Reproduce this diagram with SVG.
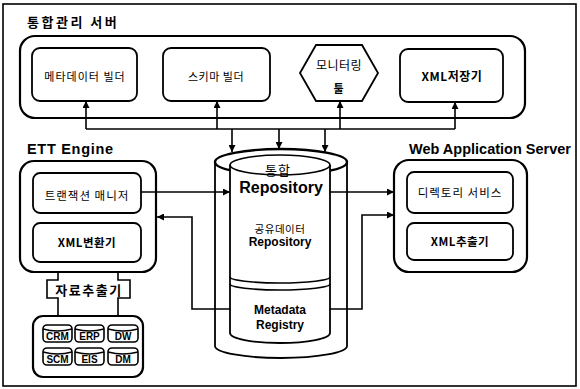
<svg xmlns="http://www.w3.org/2000/svg" width="580" height="389" viewBox="0 0 580 389">
<defs>
<marker id="ah" viewBox="0 0 10 10" refX="10" refY="5" markerWidth="7" markerHeight="7" markerUnits="userSpaceOnUse" orient="auto">
<path d="M0,0 L10,5 L0,10 z" fill="#000"/>
</marker>
<style>
.cont{fill:#fff;stroke:#000;stroke-width:2.2}
.box{fill:#fff;stroke:#000;stroke-width:1.8}
.ln{fill:none;stroke:#000;stroke-width:1.6}
.kr{font-family:"Noto Sans CJK KR","Noto Sans",sans-serif;font-size:11px;fill:#000;text-anchor:middle;letter-spacing:1px}
.b{font-weight:bold}
.en{font-family:"Liberation Sans",Arial,sans-serif;font-weight:bold;fill:#000}
.db{font-family:"Liberation Sans",Arial,sans-serif;font-weight:bold;font-size:10px;text-anchor:middle;fill:#000}
</style>
</defs>
<rect x="0" y="0" width="580" height="389" fill="#fff"/>
<rect x="3" y="4" width="573" height="382" fill="none" stroke="#000" stroke-width="1.6"/>

<g id="server">
<text x="27" y="27" class="kr b" style="text-anchor:start;font-size:13px;letter-spacing:2.5px">통합관리 서버</text>
<rect x="20" y="36" width="505" height="82" rx="15" class="cont"/>
</g>
<g id="meta-builder">
<rect x="32" y="48" width="105" height="53" rx="8" class="box"/>
<text x="85" y="81" class="kr">메타데이터 빌더</text>
</g>
<g id="schema-builder">
<rect x="163" y="48" width="107" height="53" rx="8" class="box"/>
<text x="216" y="81" class="kr" style="letter-spacing:0.5px">스키마 빌더</text>
</g>
<g id="monitor">
<polygon points="300,73 316,45 362,45 378,73 362,101 316,101" class="box"/>
<text x="339" y="70" class="kr" style="font-size:12px;letter-spacing:0.5px">모니터링</text>
<text x="339" y="93" class="kr b" style="font-size:11px">툴</text>
</g>
<g id="xml-store">
<rect x="400" y="49" width="103" height="53" rx="8" class="box"/>
<text x="452" y="81" class="kr b" style="font-size:12px;letter-spacing:0.5px">XML저장기</text>
</g>

<g id="ett">
<text x="27" y="154" class="en" style="font-size:14.5px;letter-spacing:0.7px">ETT Engine</text>
<rect x="20" y="161" width="136" height="111" rx="14" class="cont"/>
</g>
<g id="tx-manager">
<rect x="33" y="173" width="108" height="40" rx="7" class="box"/>
<text x="87" y="200" class="kr" style="font-size:11.5px">트랜잭션 매니저</text>
</g>
<g id="xml-converter">
<rect x="33" y="223" width="108" height="39" rx="7" class="box"/>
<text x="87" y="247" class="kr b" style="font-size:11.5px;letter-spacing:0.5px">XML변환기</text>
</g>
<g id="extractor">
<path d="M58,272 V280 H47 V298 H58 V316" class="ln" stroke-width="1.8"/>
<path d="M118,272 V280 H130 V298 H118 V316" class="ln" stroke-width="1.8"/>
<text x="89" y="295" class="kr b" style="font-size:13px;letter-spacing:1.5px">자료추출기</text>
</g>
<g id="sources">
<rect x="33" y="316" width="110" height="61" rx="10" class="cont"/>
<g class="ln" stroke-width="1.4">
<rect x="43" y="325" width="29" height="17" rx="4" fill="#fff"/>
<path d="M43,329 Q57.5,333 72,329"/>
<rect x="75" y="325" width="29" height="17" rx="4" fill="#fff"/>
<path d="M75,329 Q89.5,333 104,329"/>
<rect x="108" y="325" width="30" height="17" rx="4" fill="#fff"/>
<path d="M108,329 Q123,333 138,329"/>
<rect x="43" y="348" width="29" height="17" rx="4" fill="#fff"/>
<path d="M43,352 Q57.5,356 72,352"/>
<rect x="75" y="348" width="29" height="17" rx="4" fill="#fff"/>
<path d="M75,352 Q89.5,356 104,352"/>
<rect x="108" y="348" width="30" height="17" rx="4" fill="#fff"/>
<path d="M108,352 Q123,356 138,352"/>
</g>
<text x="57.5" y="340" class="db">CRM</text>
<text x="89.5" y="340" class="db">ERP</text>
<text x="123" y="340" class="db">DW</text>
<text x="57.5" y="363" class="db">SCM</text>
<text x="89.5" y="363" class="db">EIS</text>
<text x="123" y="363" class="db">DM</text>
</g>

<g id="repository">
<path d="M215,162 V346 A66,12 0 0 0 347,346 V162" class="box" stroke-width="1.8"/>
<ellipse cx="281" cy="162" rx="66" ry="13" fill="#fff" stroke="#000" stroke-width="2.4"/>
<path d="M230,165 V333 A50,10 0 0 0 330,333 V165" class="box" stroke-width="1.6"/>
<ellipse cx="280" cy="165" rx="50" ry="10" fill="none" stroke="#000" stroke-width="1.6"/>
<path d="M230,277 A50,6 0 0 0 330,277" class="ln"/>
<path d="M230,284 A50,6 0 0 0 330,284" class="ln"/>
<text x="278" y="175" class="kr" style="font-size:13px;letter-spacing:1px">통합</text>
<text x="281" y="193" class="en" style="font-size:16px;text-anchor:middle">Repository</text>
<text x="280" y="233" class="kr" style="font-size:10.5px;letter-spacing:0.5px">공유데이터</text>
<text x="280" y="246" class="en" style="font-size:12px;text-anchor:middle">Repository</text>
<text x="280" y="314" class="en" style="font-size:12px;text-anchor:middle">Metadata</text>
<text x="280" y="329" class="en" style="font-size:12px;text-anchor:middle">Registry</text>
</g>

<g id="was">
<text x="409" y="154" class="en" style="font-size:14.5px">Web Application Server</text>
<rect x="394" y="160" width="133" height="112" rx="15" class="cont"/>
</g>
<g id="dir-service">
<rect x="407" y="172" width="106" height="41" rx="7" class="box"/>
<text x="460" y="197" class="kr" style="font-size:11.5px">디렉토리 서비스</text>
</g>
<g id="xml-extractor">
<rect x="407" y="223" width="106" height="37" rx="7" class="box"/>
<text x="460" y="246" class="kr b" style="font-size:11.5px;letter-spacing:0.5px">XML추출기</text>
</g>

<g id="connectors" class="ln">
<path d="M86,129 H455"/>
<path d="M86,129 V101" marker-end="url(#ah)"/>
<path d="M217,129 V101" marker-end="url(#ah)"/>
<path d="M340,129 V101" marker-end="url(#ah)"/>
<path d="M455,129 V102" marker-end="url(#ah)"/>
<path d="M232,129 V152" marker-end="url(#ah)"/>
<path d="M279,129 V149" marker-end="url(#ah)"/>
<path d="M325,129 V152" marker-end="url(#ah)"/>
<path d="M141,192 H230" marker-end="url(#ah)"/>
<path d="M230,309 H192 V217 H157" marker-end="url(#ah)"/>
<path d="M330,192 H394" marker-end="url(#ah)"/>
<path d="M330,309 H362 V215 H394" marker-end="url(#ah)"/>
</g>
</svg>
